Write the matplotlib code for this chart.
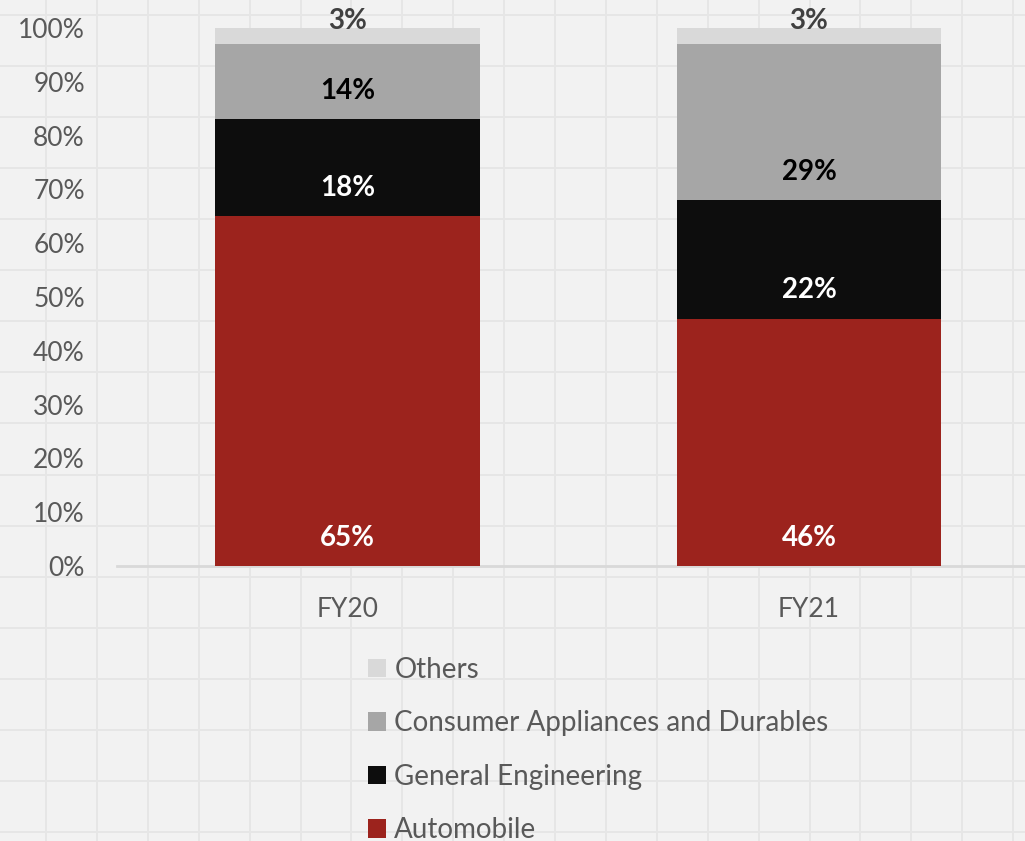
import numpy as np
import matplotlib
matplotlib.use("Agg")
import matplotlib.pyplot as plt
from matplotlib.patches import Patch
from matplotlib.ticker import PercentFormatter

plt.rcParams['font.family'] = ['Lato', 'DejaVu Sans']

# Revenue mix by segment (%)
years = ['FY20', 'FY21']
segments = ['Automobile', 'General Engineering', 'Consumer Appliances and Durables', 'Others']
automobile = [65, 46]
general_eng = [18, 22]
consumer = [14, 29]
others = [3, 3]

seg_values = [automobile, general_eng, consumer, others]
seg_colors = ['#9C231D', '#0D0D0D', '#A6A6A6', '#D9D9D9']
label_colors = ['white', 'white', 'black', '#404040']
# label offset above each segment's base, in points
label_offsets = [20.5, 20.5, 20.5, 16.5]

W, H = 1025, 841
fig = plt.figure(figsize=(W / 100, H / 100), dpi=100)
fig.patch.set_facecolor('#F2F2F2')

# spreadsheet cell lines behind the chart
bg = fig.add_axes([0, 0, 1, 1], zorder=-1)
bg.set_xlim(0, W)
bg.set_ylim(H, 0)
bg.axis('off')
for gx in np.arange(46, W, 50.9):
    bg.axvline(gx, color='#E6E6E6', lw=1.4)
for gy in np.arange(15, H, 51.06):
    bg.axhline(gy, color='#E6E6E6', lw=1.4)

ax = fig.add_axes([116.75 / W, 1 - 566 / H, 923 / W, 538 / H])
ax.patch.set_alpha(0)

x = np.arange(len(years))
bottom = np.zeros(len(years))
for vals, color, tcolor, off in zip(seg_values, seg_colors, label_colors, label_offsets):
    ax.bar(x, vals, width=0.574, bottom=bottom, color=color, zorder=2)
    for xi, b, v in zip(x, bottom, vals):
        ax.annotate(f'{v}%', (xi, b), xytext=(0, off), textcoords='offset points',
                    ha='center', va='center', fontsize=20, fontweight='bold',
                    color=tcolor, annotation_clip=False, zorder=3)
    bottom += vals

ax.set_xlim(-0.5, 1.5)
ax.set_ylim(0, 100)
ax.set_yticks(np.arange(0, 101, 10))
ax.yaxis.set_major_formatter(PercentFormatter(decimals=0))
ax.set_xticks(x)
ax.set_xticklabels(years)
ax.tick_params(axis='y', length=0, pad=23, labelsize=19, labelcolor='#595959')
ax.tick_params(axis='x', length=0, pad=22, labelsize=19, labelcolor='#595959')
for s in ['top', 'right', 'left']:
    ax.spines[s].set_visible(False)
ax.spines['bottom'].set_color('#D9D9D9')
ax.spines['bottom'].set_linewidth(2)
ax.spines['bottom'].set_zorder(1)

handles = [Patch(facecolor=c, label=s) for s, c in zip(segments, seg_colors)][::-1]
fig.legend(handles=handles, loc='upper left', bbox_to_anchor=(354 / W, 1 - 643 / H),
           frameon=False, fontsize=20, labelcolor='#595959', handlelength=0.65,
           handleheight=0.65, handletextpad=0.3, labelspacing=0.99, borderpad=0)

fig.savefig('out.png', dpi=100, facecolor=fig.get_facecolor())
